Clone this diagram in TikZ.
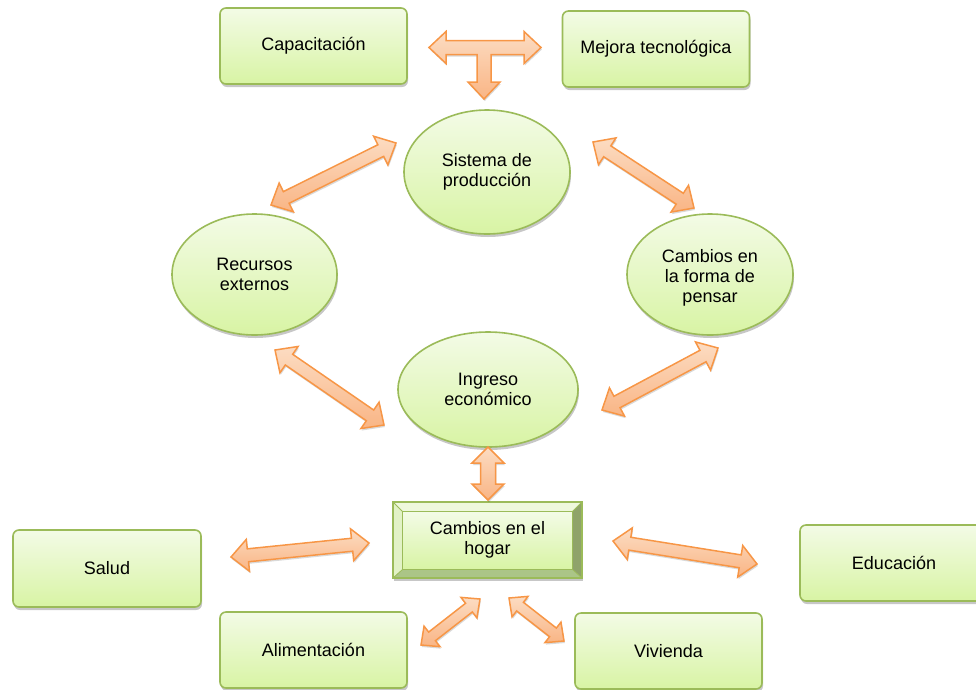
\documentclass[tikz,border=0pt]{standalone}
\usepackage{fontspec}
\setmainfont{Liberation Sans}
\usetikzlibrary{calc,shadows,shapes.geometric,backgrounds}
\definecolor{grline}{HTML}{9BBB59}
\definecolor{grtop}{HTML}{F3FBE6}
\definecolor{grbot}{HTML}{D8F4A4}
\definecolor{orline}{HTML}{F79646}
\definecolor{ortop}{HTML}{FCDCC2}
\definecolor{orbot}{HTML}{F9B585}
\definecolor{bvtop}{HTML}{EEF8DC}
\definecolor{bvleft}{HTML}{E2F2C6}
\definecolor{bvright}{HTML}{8FA36A}
\definecolor{bvbot}{HTML}{ABC587}
\tikzset{
  shad/.style={drop shadow={shadow xshift=1pt, shadow yshift=-3pt, opacity=0.22, fill=black}},
  txt/.style={font=\fontsize{18}{20}\selectfont, align=center, text=black},
  box/.style={txt, draw=grline, line width=1.6pt, rounded corners=6pt, top color=grtop, bottom color=grbot, minimum width=187pt, minimum height=76pt, inner sep=0pt, shad},
  oval/.style={txt, ellipse, draw=grline, line width=1.6pt, top color=grtop, bottom color=grbot, inner sep=0pt, shad},
  barrow/.style={draw=orline, line width=1.5pt, line join=miter, top color=ortop, bottom color=orbot, drop shadow={shadow xshift=0.8pt, shadow yshift=-2pt, opacity=0.15, fill=black}},
}
% block double arrow between two named coordinates
\newcommand\blockarrow[5]{%
  \draw[barrow] let \p1=(#1), \p2=(#2),
     \n1={atan2(\y2-\y1,\x2-\x1)}, \n2={veclen(\x2-\x1,\y2-\y1)} in
    (\p1) -- ($(\p1)+(\n1:#3)+({\n1+90}:#4)$) -- ($(\p1)+(\n1:#3)+({\n1+90}:#5)$)
    -- ($(\p1)+(\n1:{\n2-#3})+({\n1+90}:#5)$) -- ($(\p1)+(\n1:{\n2-#3})+({\n1+90}:#4)$)
    -- (\p2) -- ($(\p1)+(\n1:{\n2-#3})+({\n1-90}:#4)$) -- ($(\p1)+(\n1:{\n2-#3})+({\n1-90}:#5)$)
    -- ($(\p1)+(\n1:#3)+({\n1-90}:#5)$) -- ($(\p1)+(\n1:#3)+({\n1-90}:#4)$) -- cycle;}
\begin{document}
\begin{tikzpicture}[x=1pt,y=1pt]
\useasboundingbox (0,0) rectangle (976,-689);
\clip (0,0) rectangle (976,-689);

% rectangular boxes
\node[box] (cap) at (313.5,-46) {Capacitación};
\node[box] (mej) at (656,-49) {Mejora tecnológica};
\node[box, minimum width=188pt, minimum height=77pt] (sal) at (107,-568.5) {Salud};
\node[box, minimum width=188pt] (edu) at (894,-563) {Educación};
\node[box] (ali) at (313.5,-650) {Alimentación};
\node[box] (viv) at (668.5,-651) {Vivienda};

% ellipses
\node[oval, minimum width=166pt, minimum height=124pt] (sis) at (487,-172) {Sistema de\\producción};
\node[oval, minimum width=165pt, minimum height=121pt] (rec) at (254.5,-274.5) {Recursos\\externos};
\node[oval, minimum width=166pt, minimum height=121pt] (pen) at (710,-274.5) {};
\node[txt] (pentxt) at (710,-278) {Cambios en\\la forma de\\pensar};
\node[oval, minimum width=180pt, minimum height=115pt] (ing) at (488,-389.5) {Ingreso\\económico};

% bevelled box
\node[txt, minimum width=189pt, minimum height=76pt, inner sep=0pt] (hog) at (487.5,-540) {Cambios en el\\hogar};
\begin{scope}[on background layer]
  \fill[black, opacity=0.22] ($(hog.north west)+(1,-3)$) rectangle ($(hog.south east)+(1,-3)$);
  \coordinate (inw) at ($(hog.north west)+(10,-10)$);
  \coordinate (ine) at ($(hog.north east)+(-10,-10)$);
  \coordinate (ise) at ($(hog.south east)+(-10,9)$);
  \coordinate (isw) at ($(hog.south west)+(10,9)$);
  \fill[bvtop] (hog.north west) -- (hog.north east) -- (ine) -- (inw) -- cycle;
  \fill[bvleft] (hog.north west) -- (inw) -- (isw) -- (hog.south west) -- cycle;
  \fill[bvright] (hog.north east) -- (hog.south east) -- (ise) -- (ine) -- cycle;
  \fill[bvbot] (hog.south west) -- (isw) -- (ise) -- (hog.south east) -- cycle;
  \shade[top color=grtop, bottom color=grbot] (inw) rectangle (ise);
  \draw[grline, line width=0.8pt] (inw) rectangle (ise);
  \draw[grline, line width=0.8pt] (hog.north west) -- (inw) (hog.north east) -- (ine)
     (hog.south east) -- (ise) (hog.south west) -- (isw);
  \draw[grline, line width=1.6pt] (hog.north west) rectangle (hog.south east);
\end{scope}

% T-shaped arrow at the top
\draw[barrow] (429,-47.5) -- (446,-31.5) -- (446,-40.5) -- (524,-40.5) -- (524,-31.5)
  -- (541,-47.5) -- (524,-63.5) -- (524,-54.5) -- (491,-54.5) -- (491,-82) -- (500,-82)
  -- (484,-99) -- (468,-82) -- (477,-82) -- (477,-54.5) -- (446,-54.5) -- (446,-63.5) -- cycle;

% arrow end points
\coordinate (a1) at (271,-205); \coordinate (b1) at (396,-143);
\coordinate (a2) at (593,-142); \coordinate (b2) at (694,-208);
\coordinate (a3) at (275,-350); \coordinate (b3) at (384,-425);
\coordinate (a4) at (602,-410); \coordinate (b4) at (718,-348);
\coordinate (a5) at (488,-447); \coordinate (b5) at (488,-500);
\coordinate (a6) at (231,-557); \coordinate (b6) at (369,-543);
\coordinate (a7) at (613,-541); \coordinate (b7) at (757,-564);
\coordinate (a8) at (421,-645); \coordinate (b8) at (480,-599);
\coordinate (a9) at (509,-598); \coordinate (b9) at (564,-641);

\blockarrow{a1}{b1}{17}{16}{6.5}
\blockarrow{a2}{b2}{17}{16}{6.5}
\blockarrow{a3}{b3}{17}{16}{6.5}
\blockarrow{a4}{b4}{17}{16}{6.5}
\blockarrow{a5}{b5}{16}{16}{7.5}
\blockarrow{a6}{b6}{17}{16}{6.5}
\blockarrow{a7}{b7}{17}{16}{6.5}
\blockarrow{a8}{b8}{14}{13}{5.5}
\blockarrow{a9}{b9}{14}{13}{5.5}
\end{tikzpicture}
\end{document}
